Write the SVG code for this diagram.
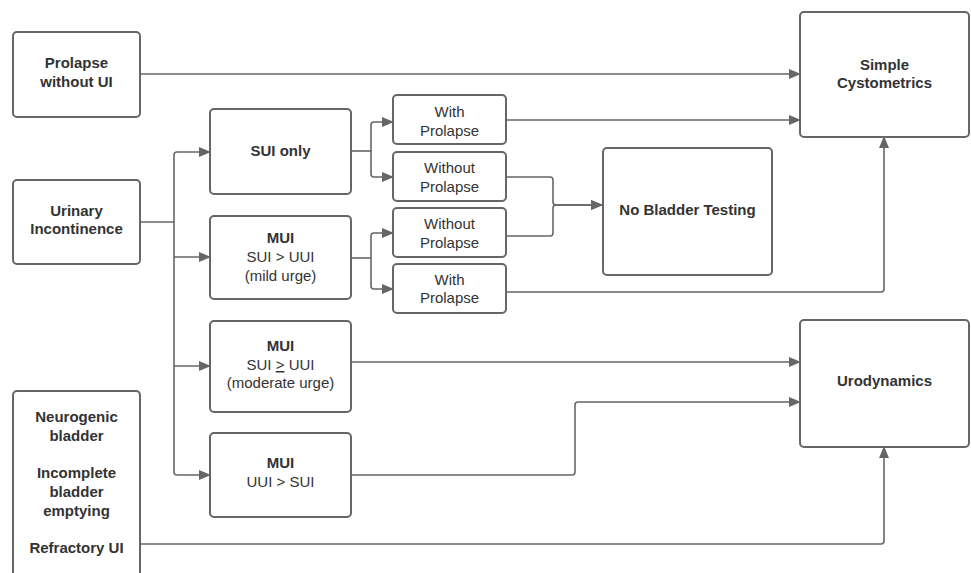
<svg xmlns="http://www.w3.org/2000/svg" width="971" height="573" viewBox="0 0 971 573">
  <style>
    .box { fill: #ffffff; stroke: #666666; stroke-width: 2; }
    .t { font-family: "Liberation Sans", Arial, sans-serif; font-size: 15px; fill: #333333; text-anchor: middle; }
    .b { font-weight: bold; }
    .edge { fill: none; stroke: #666666; stroke-width: 1.6; }
    .arrow { marker-end: url(#head); }
  </style>
  <defs>
    <marker id="head" markerUnits="userSpaceOnUse" markerWidth="12" markerHeight="10" refX="11" refY="5" orient="auto">
      <path d="M0,0 L12,5 L0,10 Z" fill="#666666"/>
    </marker>
  </defs>
  <rect width="971" height="573" fill="#ffffff"/>

  <g id="connectors">
    <path class="edge arrow" d="M140,74 H800"/>
    <path class="edge" d="M140,222 H174"/>
    <path class="edge arrow" d="M174,222 V155 Q174,152 177,152 H210"/>
    <path class="edge arrow" d="M174,222 V472 Q174,475 177,475 H210"/>
    <path class="edge arrow" d="M174,257 H210"/>
    <path class="edge arrow" d="M174,366 H210"/>

    <path class="edge" d="M351,151 H371"/>
    <path class="edge arrow" d="M371,151 V125 Q371,122 374,122 H393"/>
    <path class="edge arrow" d="M371,151 V174 Q371,177 374,177 H393"/>
    <path class="edge" d="M351,258 H371"/>
    <path class="edge arrow" d="M371,258 V236 Q371,233 374,233 H393"/>
    <path class="edge arrow" d="M371,258 V286 Q371,289 374,289 H393"/>

    <path class="edge arrow" d="M506,120 H800"/>
    <path class="edge arrow" d="M506,177 H550 Q553,177 553,180 V202 Q553,205 556,205 H602"/>
    <path class="edge arrow" d="M506,236 H550 Q553,236 553,233 V208 Q553,205 556,205 H602"/>
    <path class="edge arrow" d="M506,292 H881 Q884,292 884,289 V137"/>

    <path class="edge arrow" d="M351,362 H800"/>
    <path class="edge arrow" d="M351,475 H572 Q575,475 575,472 V405 Q575,402 578,402 H800"/>
    <path class="edge arrow" d="M140,544 H881 Q884,544 884,541 V447"/>
  </g>

  <g id="prolapse-without-ui">
    <rect class="box" x="13" y="32" width="127" height="85" rx="4"/>
    <text class="t b" x="76.5" y="68">Prolapse</text>
    <text class="t b" x="76.5" y="87">without UI</text>
  </g>

  <g id="urinary-incontinence">
    <rect class="box" x="13" y="180" width="127" height="84" rx="4"/>
    <text class="t b" x="76.5" y="216">Urinary</text>
    <text class="t b" x="76.5" y="234">Incontinence</text>
  </g>

  <g id="other-indications">
    <rect class="box" x="13" y="391" width="127" height="200" rx="4"/>
    <text class="t b" x="76.5" y="422">Neurogenic</text>
    <text class="t b" x="76.5" y="441">bladder</text>
    <text class="t b" x="76.5" y="478">Incomplete</text>
    <text class="t b" x="76.5" y="497">bladder</text>
    <text class="t b" x="76.5" y="516">emptying</text>
    <text class="t b" x="76.5" y="553">Refractory UI</text>
  </g>

  <g id="sui-only">
    <rect class="box" x="210" y="109" width="141" height="85" rx="4"/>
    <text class="t b" x="280.5" y="156">SUI only</text>
  </g>

  <g id="mui-mild">
    <rect class="box" x="210" y="216" width="141" height="83" rx="4"/>
    <text class="t b" x="280.5" y="243">MUI</text>
    <text class="t" x="280.5" y="262">SUI &gt; UUI</text>
    <text class="t" x="280.5" y="281">(mild urge)</text>
  </g>

  <g id="mui-moderate">
    <rect class="box" x="210" y="321" width="141" height="91" rx="4"/>
    <text class="t b" x="280.5" y="351">MUI</text>
    <text class="t" x="280.5" y="370">SUI <tspan text-decoration="underline">&gt;</tspan> UUI</text>
    <text class="t" x="280.5" y="388">(moderate urge)</text>
  </g>

  <g id="mui-urge">
    <rect class="box" x="210" y="433" width="141" height="84" rx="4"/>
    <text class="t b" x="280.5" y="468">MUI</text>
    <text class="t" x="280.5" y="487">UUI &gt; SUI</text>
  </g>

  <g id="sui-with-prolapse">
    <rect class="box" x="393" y="95" width="113" height="49" rx="4"/>
    <text class="t" x="449.5" y="117">With</text>
    <text class="t" x="449.5" y="136">Prolapse</text>
  </g>

  <g id="sui-without-prolapse">
    <rect class="box" x="393" y="152" width="113" height="49" rx="4"/>
    <text class="t" x="449.5" y="173">Without</text>
    <text class="t" x="449.5" y="192">Prolapse</text>
  </g>

  <g id="mui-without-prolapse">
    <rect class="box" x="393" y="208" width="113" height="49" rx="4"/>
    <text class="t" x="449.5" y="229">Without</text>
    <text class="t" x="449.5" y="248">Prolapse</text>
  </g>

  <g id="mui-with-prolapse">
    <rect class="box" x="393" y="264" width="113" height="49" rx="4"/>
    <text class="t" x="449.5" y="285">With</text>
    <text class="t" x="449.5" y="303">Prolapse</text>
  </g>

  <g id="no-bladder-testing">
    <rect class="box" x="603" y="148" width="169" height="127" rx="4"/>
    <text class="t b" x="687.5" y="215">No Bladder Testing</text>
  </g>

  <g id="simple-cystometrics">
    <rect class="box" x="800" y="12" width="169" height="125" rx="4"/>
    <text class="t b" x="884.5" y="70">Simple</text>
    <text class="t b" x="884.5" y="88">Cystometrics</text>
  </g>

  <g id="urodynamics">
    <rect class="box" x="800" y="320" width="169" height="127" rx="4"/>
    <text class="t b" x="884.5" y="386">Urodynamics</text>
  </g>
</svg>
